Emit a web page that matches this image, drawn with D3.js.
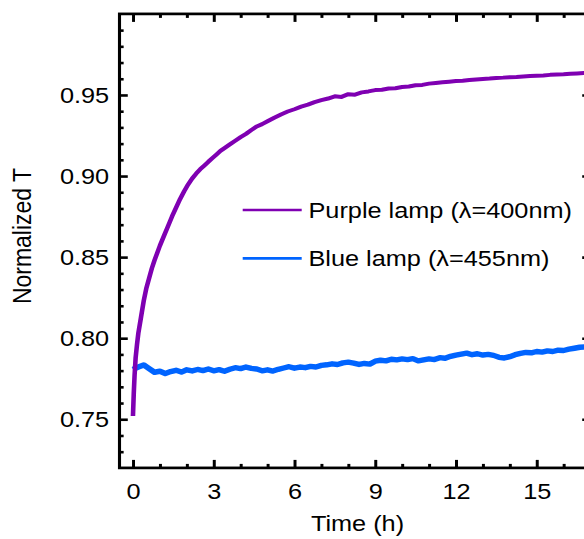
<!DOCTYPE html>
<html>
<head>
<meta charset="utf-8">
<script src="https://cdn.jsdelivr.net/npm/d3@7"></script>
<style>
  html, body { margin: 0; padding: 0; background: #fff; }
  svg { display: block; }
  text { font-family: "Liberation Sans", Arial, sans-serif; fill: #000; }
</style>
</head>
<body>
<svg id="chart" width="584" height="539"></svg>
<script>
// ---------------- data ----------------
const purpleTime = [0, 0.03, 0.06, 0.1, 0.15, 0.2, 0.3, 0.4, 0.5, 0.6, 0.7, 0.8, 0.9, 1.0, 1.15, 1.3, 1.45, 1.6, 1.75, 1.9, 2.05, 2.2, 2.35, 2.5, 2.65, 2.8, 2.95, 3.1, 3.25, 3.4, 3.6, 3.8, 4.0, 4.2, 4.4, 4.6, 4.8, 5.0, 5.25, 5.5, 5.75, 6.0, 6.25, 6.5, 6.75, 7.0, 7.25, 7.5, 7.75, 8.0, 8.25, 8.5, 8.75, 9.0, 9.25, 9.5, 9.75, 10.0, 10.25, 10.5, 10.75, 11.0, 11.25, 11.5, 11.75, 12.0, 12.25, 12.5, 12.75, 13.0, 13.25, 13.5, 13.75, 14.0, 14.25, 14.5, 14.75, 15.0, 15.25, 15.5, 15.75, 16.0, 16.25, 16.5, 16.75, 17.0];
const purpleT = [0.752, 0.766, 0.777, 0.788, 0.796, 0.803, 0.813, 0.823, 0.831, 0.837, 0.843, 0.848, 0.8525, 0.857, 0.863, 0.869, 0.875, 0.8805, 0.8858, 0.8905, 0.8948, 0.8985, 0.9015, 0.9042, 0.9065, 0.9088, 0.911, 0.9132, 0.9155, 0.9172, 0.9195, 0.9218, 0.924, 0.926, 0.9284, 0.9306, 0.932, 0.9338, 0.936, 0.938, 0.9398, 0.9412, 0.9428, 0.944, 0.9456, 0.9468, 0.9478, 0.9492, 0.9488, 0.9505, 0.9502, 0.9516, 0.9522, 0.953, 0.9532, 0.954, 0.9541, 0.9549, 0.9552, 0.956, 0.9562, 0.957, 0.9574, 0.9578, 0.9582, 0.9586, 0.9588, 0.9592, 0.9596, 0.9599, 0.9601, 0.9605, 0.9607, 0.961, 0.9611, 0.9614, 0.9617, 0.9619, 0.962, 0.9624, 0.9626, 0.9628, 0.9631, 0.9633, 0.9635, 0.9637];

const blueTime = [0.0, 0.2, 0.4, 0.6, 0.8, 1.0, 1.2, 1.4, 1.6, 1.8, 2.0, 2.2, 2.4, 2.6, 2.8, 3.0, 3.2, 3.4, 3.6, 3.8, 4.0, 4.2, 4.4, 4.6, 4.8, 5.0, 5.2, 5.4, 5.6, 5.8, 6.0, 6.2, 6.4, 6.6, 6.8, 7.0, 7.2, 7.4, 7.6, 7.8, 8.0, 8.2, 8.4, 8.6, 8.8, 9.0, 9.2, 9.4, 9.6, 9.8, 10.0, 10.2, 10.4, 10.6, 10.8, 11.0, 11.2, 11.4, 11.6, 11.8, 12.0, 12.2, 12.4, 12.6, 12.8, 13.0, 13.2, 13.4, 13.6, 13.8, 14.0, 14.2, 14.4, 14.6, 14.8, 15.0, 15.2, 15.4, 15.6, 15.8, 16.0, 16.2, 16.4, 16.6, 16.8, 17.0];
const blueT = [0.7808, 0.7822, 0.7835, 0.7812, 0.779, 0.7796, 0.7782, 0.7794, 0.7802, 0.7791, 0.7805, 0.7798, 0.7807, 0.78, 0.781, 0.7799, 0.7806, 0.7796, 0.7808, 0.7818, 0.7812, 0.7822, 0.7814, 0.781, 0.7799, 0.7805, 0.7797, 0.7808, 0.7816, 0.7824, 0.7815, 0.7822, 0.7818, 0.7826, 0.7822, 0.7832, 0.7836, 0.7842, 0.7838, 0.7848, 0.7852, 0.7846, 0.7838, 0.7844, 0.784, 0.7858, 0.7864, 0.786, 0.787, 0.7866, 0.7872, 0.7868, 0.7874, 0.786, 0.7866, 0.7872, 0.7868, 0.788, 0.7876, 0.7888, 0.7896, 0.7902, 0.7908, 0.7898, 0.7904, 0.7896, 0.79, 0.7894, 0.7882, 0.7878, 0.7886, 0.7898, 0.7906, 0.7912, 0.791, 0.7918, 0.7914, 0.7922, 0.7918, 0.7926, 0.7924, 0.7932, 0.7938, 0.7944, 0.7946, 0.795];

const seriesNames = ["Purple lamp (\u03bb=400nm)", "Blue lamp (\u03bb=455nm)"];
const seriesColors = ["#7F00B2", "#0064FF"];

const xMajorTicks = [0, 3, 6, 9, 12, 15];
const xMinorTicks = [1, 2, 4, 5, 7, 8, 10, 11, 13, 14, 16];
const yMajorTicks = [0.75, 0.80, 0.85, 0.90, 0.95];
const yMinorTicks = [0.73, 0.74, 0.76, 0.77, 0.78, 0.79, 0.81, 0.82, 0.83, 0.84, 0.86, 0.87, 0.88, 0.89, 0.91, 0.92, 0.93, 0.94, 0.96, 0.97, 0.98, 0.99];

const xTitle = "Time (h)";
const yTitle = "Normalized T";

// ---------------- drawing ----------------
const S = 1.15; // horizontal stretch of the figure
const svg = d3.select("#chart");
const g = svg.append("g").attr("transform", `scale(${S},1)`);

const x = d3.scaleLinear().domain([-0.5, 17]).range([119.5 / S, 590.5 / S]);
const y = d3.scaleLinear().domain([0.72, 1.0]).range([467.9, 13.9]);

const fontSize = 22;

// data lines
const line = d3.line().x(d => x(d[0])).y(d => y(d[1]));
g.append("clipPath").attr("id", "plotclip").append("rect")
  .attr("x", x(-0.5)).attr("y", y(1.0)).attr("width", x(17) - x(-0.5)).attr("height", y(0.72) - y(1.0));

const plot = g.append("g").attr("clip-path", "url(#plotclip)");
plot.append("path")
  .datum(blueTime.map((t, i) => [t, blueT[i]]))
  .attr("d", line).attr("fill", "none").attr("stroke", seriesColors[1])
  .attr("stroke-width", 5.4).attr("stroke-linejoin", "round");
plot.append("path")
  .datum(purpleTime.map((t, i) => [t, purpleT[i]]))
  .attr("d", line).attr("fill", "none").attr("stroke", seriesColors[0])
  .attr("stroke-width", 4.0).attr("stroke-linejoin", "round");

// axes (ticks inward on all four sides)
function styleAxis(sel) {
  sel.select(".domain").remove();
  sel.selectAll(".tick line").attr("stroke", "#000").attr("stroke-width", 2.6);
  sel.selectAll(".tick text").style("font-size", fontSize + "px").attr("fill", "#000");
}
const bottomY = y(0.72), topY = y(1.0), leftX = x(-0.5), rightX = x(17);

g.append("g").attr("transform", `translate(0,${bottomY})`)
  .call(d3.axisBottom(x).tickValues(xMajorTicks).tickSizeInner(-8).tickSizeOuter(0).tickPadding(15).tickFormat(d3.format("d")))
  .call(styleAxis);
g.append("g").attr("transform", `translate(0,${bottomY})`)
  .call(d3.axisBottom(x).tickValues(xMinorTicks).tickSizeInner(-4).tickSizeOuter(0).tickFormat(""))
  .call(styleAxis);
g.append("g").attr("transform", `translate(0,${topY})`)
  .call(d3.axisTop(x).tickValues(xMajorTicks).tickSizeInner(-8).tickSizeOuter(0).tickFormat(""))
  .call(styleAxis);
g.append("g").attr("transform", `translate(0,${topY})`)
  .call(d3.axisTop(x).tickValues(xMinorTicks).tickSizeInner(-4).tickSizeOuter(0).tickFormat(""))
  .call(styleAxis);

g.append("g").attr("transform", `translate(${leftX},0)`)
  .call(d3.axisLeft(y).tickValues(yMajorTicks).tickSizeInner(-7.2).tickSizeOuter(0).tickPadding(9).tickFormat(d3.format(".2f")))
  .call(styleAxis);
g.append("g").attr("transform", `translate(${leftX},0)`)
  .call(d3.axisLeft(y).tickValues(yMinorTicks).tickSizeInner(-3.6).tickSizeOuter(0).tickFormat(""))
  .call(styleAxis);
g.append("g").attr("transform", `translate(${rightX},0)`)
  .call(d3.axisRight(y).tickValues(yMajorTicks).tickSizeInner(-7.2).tickSizeOuter(0).tickFormat(""))
  .call(styleAxis);
g.append("g").attr("transform", `translate(${rightX},0)`)
  .call(d3.axisRight(y).tickValues(yMinorTicks).tickSizeInner(-3.6).tickSizeOuter(0).tickFormat(""))
  .call(styleAxis);

// frame
g.append("rect")
  .attr("x", leftX).attr("y", topY).attr("width", rightX - leftX).attr("height", bottomY - topY)
  .attr("fill", "none").attr("stroke", "#000").attr("stroke-width", 2.7);

// axis titles
g.append("text")
  .attr("x", 357.5 / S).attr("y", 531.5)
  .attr("text-anchor", "middle").style("font-size", fontSize + "px")
  .text(xTitle);
g.append("text")
  .attr("transform", `translate(${31.5 / S},236) rotate(-90)`)
  .attr("text-anchor", "middle").style("font-size", "23px")
  .text(yTitle);

// legend
const legendY = [210, 258.3];
seriesNames.forEach((name, i) => {
  g.append("line")
    .attr("x1", 242.7 / S).attr("x2", 301.7 / S)
    .attr("y1", legendY[i]).attr("y2", legendY[i])
    .attr("stroke", seriesColors[i]).attr("stroke-width", 2.7);
  g.append("text")
    .attr("x", 308.5 / S).attr("y", legendY[i] + 8)
    .style("font-size", "22px")
    .text(name);
});
</script>
</body>
</html>
